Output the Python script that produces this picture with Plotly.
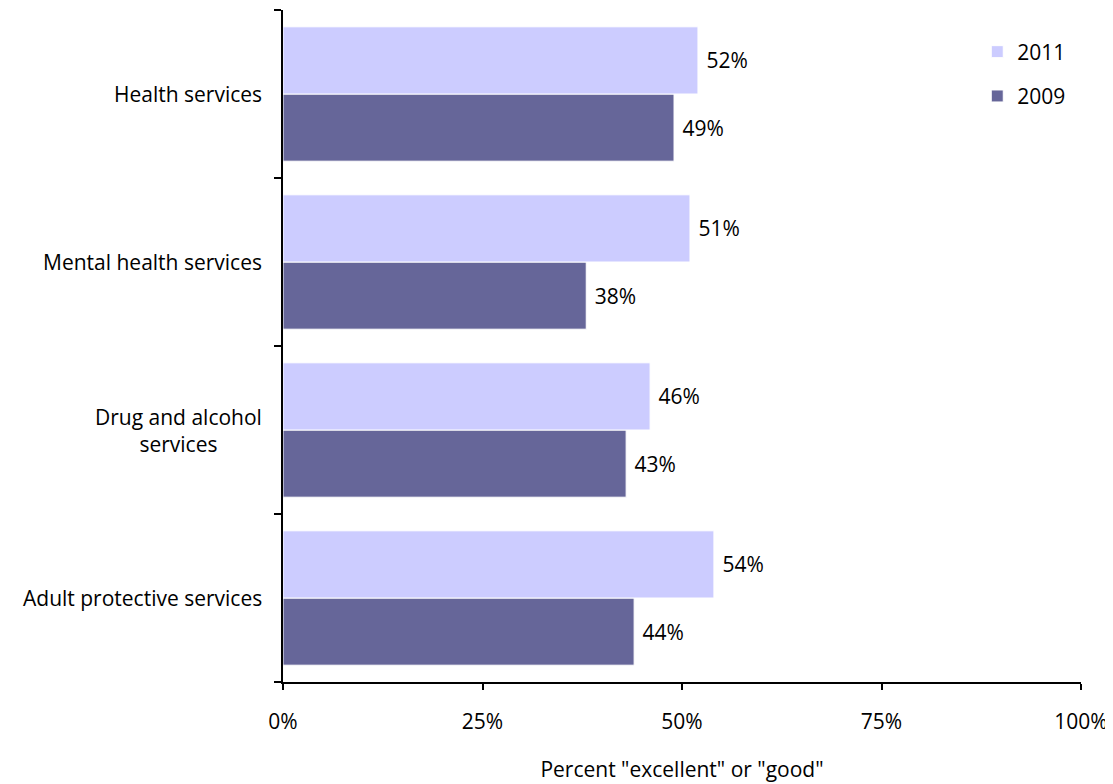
import plotly.graph_objects as go

categories = ["Adult protective services", "Drug and alcohol<br>services",
              "Mental health services", "Health services"]
vals_2009 = [44, 43, 38, 49]
vals_2011 = [54, 46, 51, 52]
x_ticks = [0, 25, 50, 75, 100]
x_ticklabels = ["0%", "25%", "50%", "75%", "100%"]

FONT = "Open Sans, Lato, sans-serif"
FS = 21

fig = go.Figure()
fig.add_trace(go.Bar(
    y=categories, x=vals_2009, name="2009", orientation="h",
    marker=dict(color="#666699", line=dict(color="white", width=1)),
    text=[f" {v}%" for v in vals_2009], textposition="outside",
    textfont=dict(size=FS, color="black", family=FONT),
    cliponaxis=False, legendrank=2, legendgroup="a",
))
fig.add_trace(go.Bar(
    y=categories, x=vals_2011, name="2011", orientation="h",
    marker=dict(color="#ccccff", line=dict(color="white", width=1)),
    text=[f" {v}%" for v in vals_2011], textposition="outside",
    textfont=dict(size=FS, color="black", family=FONT),
    cliponaxis=False, legendrank=1, legendgroup="b",
))

for c in categories:
    fig.add_annotation(x=0, xref="paper", y=c, yref="y", text=c,
                       xanchor="right", yanchor="middle", align="center",
                       showarrow=False, xshift=-19,
                       font=dict(size=FS, color="black", family=FONT))

fig.update_layout(
    width=1105, height=776,
    margin=dict(l=275, r=32, t=2, b=102),
    plot_bgcolor="white", paper_bgcolor="white",
    barmode="group", bargap=0.2, bargroupgap=0.0,
    font=dict(family=FONT, size=FS, color="black"),
    showlegend=True,
    legend=dict(x=0.87, y=0.968, xanchor="left", yanchor="top",
                traceorder="grouped", tracegroupgap=14,
                font=dict(size=FS), itemwidth=30, bgcolor="rgba(0,0,0,0)"),
    xaxis=dict(range=[0, 100], tickvals=x_ticks, ticktext=x_ticklabels,
               showgrid=False, zeroline=False, showline=True,
               linecolor="black", linewidth=1.5, ticks="outside",
               ticklen=6, tickwidth=1.5, tickcolor="black",
               ticklabelstandoff=14,
               title=dict(text='Percent "excellent" or "good"', standoff=28,
                          font=dict(size=FS)),
               tickfont=dict(size=FS)),
    yaxis=dict(showticklabels=False, showgrid=False, zeroline=False,
               showline=True, linecolor="black", linewidth=1.5,
               ticks="outside", tickson="boundaries", ticklen=7,
               tickwidth=1.5, tickcolor="black",
               range=[-0.5, 3.5]),
)

fig.write_html("out.html")
